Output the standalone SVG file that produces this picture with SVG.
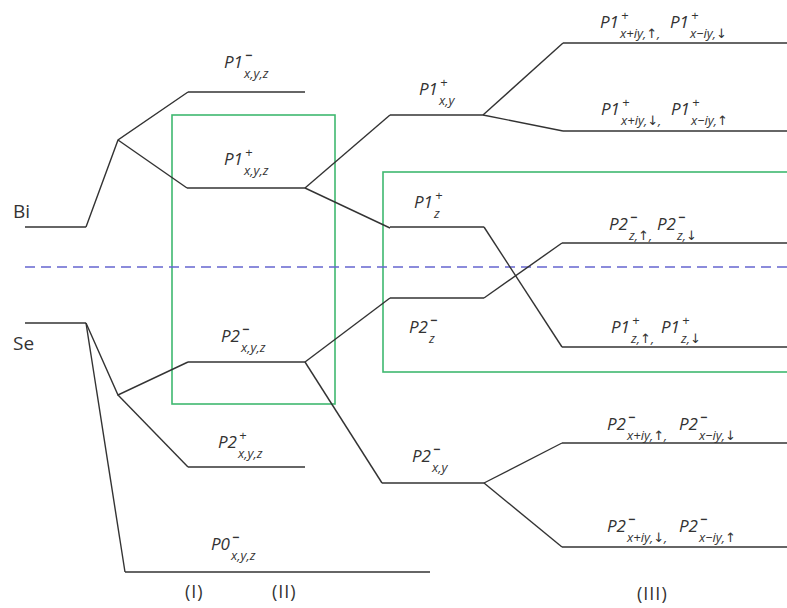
<svg xmlns="http://www.w3.org/2000/svg" width="787" height="608" viewBox="0 0 787 608">
<style>
.lv{stroke:#333;stroke-width:1.5;fill:none}
.cn{stroke:#333;stroke-width:1.4;fill:none}
.box{stroke:#3fb870;stroke-width:1.6;fill:none}
.m{font-family:"Open Sans","DejaVu Sans",sans-serif;font-style:italic;font-size:17px;fill:#333}
.s{font-family:"Open Sans","DejaVu Sans",sans-serif;font-style:italic;font-size:13px;fill:#333}
.mi{font-weight:bold}
.el{font-family:"Open Sans","DejaVu Sans",sans-serif;font-size:19px;fill:#333}
.rn{font-family:"Open Sans","DejaVu Sans",sans-serif;font-size:18px;fill:#333;letter-spacing:1px}
</style>
<rect width="787" height="608" fill="#fff"/>
<g id="boxes">
<rect class="box" x="172" y="115" width="163" height="289"/>
<rect class="box" x="383" y="172" width="410" height="200"/>
</g>
<line x1="25" y1="267" x2="787" y2="267" stroke="#6565d0" stroke-width="1.3" stroke-dasharray="10 6"/>
<g id="connectors" class="cn">
<polyline points="86,227 118,140 188,92"/>
<line x1="118" y1="140" x2="187" y2="188"/>
<polyline points="86,323 118,395 188,362"/>
<line x1="118" y1="395" x2="188" y2="467"/>
<line x1="86" y1="323" x2="125" y2="572"/>
<line x1="305" y1="188" x2="390" y2="115"/>
<line x1="305" y1="188" x2="390" y2="228"/>
<line x1="305" y1="362" x2="390" y2="298"/>
<line x1="305" y1="362" x2="382" y2="483"/>
<line x1="483" y1="115" x2="563" y2="43"/>
<line x1="483" y1="115" x2="563" y2="131"/>
<line x1="484" y1="227" x2="562" y2="347"/>
<line x1="484" y1="298" x2="562" y2="243"/>
<line x1="484" y1="483" x2="562" y2="443"/>
<line x1="484" y1="483" x2="562" y2="547"/>
</g>
<g id="Bi"><line class="lv" x1="25" y1="227" x2="86" y2="227"/><text class="el" x="13" y="218">Bi</text></g>
<g id="Se"><line class="lv" x1="25" y1="323" x2="86" y2="323"/><text class="el" x="13" y="350">Se</text></g>
<g id="P1m_xyz"><line class="lv" x1="188" y1="92" x2="305" y2="92"/>
<text class="m" x="224" y="68">P1<tspan class="s mi" x="245" y="60">−</tspan><tspan class="s" x="244" y="78">x,y,z</tspan></text></g>
<g id="P1p_xyz"><line class="lv" x1="187" y1="188" x2="305" y2="188"/>
<text class="m" x="224" y="165">P1<tspan class="s" x="245" y="157">+</tspan><tspan class="s" x="244" y="175">x,y,z</tspan></text></g>
<g id="P2m_xyz"><line class="lv" x1="188" y1="362" x2="305" y2="362"/>
<text class="m" x="221" y="342">P2<tspan class="s mi" x="242" y="334">−</tspan><tspan class="s" x="241" y="352">x,y,z</tspan></text></g>
<g id="P2p_xyz"><line class="lv" x1="188" y1="467" x2="305" y2="467"/>
<text class="m" x="218" y="448">P2<tspan class="s" x="239" y="440">+</tspan><tspan class="s" x="238" y="458">x,y,z</tspan></text></g>
<g id="P0m_xyz"><line class="lv" x1="125" y1="572" x2="430" y2="572"/>
<text class="m" x="211" y="550">P0<tspan class="s mi" x="232" y="542">−</tspan><tspan class="s" x="231" y="560">x,y,z</tspan></text></g>
<g id="P1p_xy"><line class="lv" x1="390" y1="115" x2="483" y2="115"/>
<text class="m" x="419" y="95">P1<tspan class="s" x="440" y="87">+</tspan><tspan class="s" x="439" y="105">x,y</tspan></text></g>
<g id="P1p_pm_a"><line class="lv" x1="563" y1="43" x2="787" y2="43"/>
<text class="m" x="600" y="28">P1<tspan class="s" x="621" y="20">+</tspan><tspan class="s" x="620" y="38">x+iy,↑,</tspan><tspan x="670" y="28">P1</tspan><tspan class="s" x="691" y="20">+</tspan><tspan class="s" x="690" y="38">x−iy,↓</tspan></text></g>
<g id="P1p_pm_b"><line class="lv" x1="563" y1="131" x2="787" y2="131"/>
<text class="m" x="601" y="115">P1<tspan class="s" x="622" y="107">+</tspan><tspan class="s" x="621" y="125">x+iy,↓,</tspan><tspan x="671" y="115">P1</tspan><tspan class="s" x="692" y="107">+</tspan><tspan class="s" x="691" y="125">x−iy,↑</tspan></text></g>
<g id="P1p_z"><line class="lv" x1="390" y1="227" x2="484" y2="227"/>
<text class="m" x="414" y="208">P1<tspan class="s" x="435" y="200">+</tspan><tspan class="s" x="434" y="218">z</tspan></text></g>
<g id="P2m_z"><line class="lv" x1="390" y1="298" x2="484" y2="298"/>
<text class="m" x="409" y="333">P2<tspan class="s mi" x="430" y="325">−</tspan><tspan class="s" x="429" y="343">z</tspan></text></g>
<g id="P2m_z_ud"><line class="lv" x1="562" y1="243" x2="787" y2="243"/>
<text class="m" x="609" y="230">P2<tspan class="s mi" x="630" y="222">−</tspan><tspan class="s" x="629" y="240">z,↑,</tspan><tspan x="657" y="230">P2</tspan><tspan class="s mi" x="678" y="222">−</tspan><tspan class="s" x="677" y="240">z,↓</tspan></text></g>
<g id="P1p_z_ud"><line class="lv" x1="562" y1="347" x2="787" y2="347"/>
<text class="m" x="611" y="333">P1<tspan class="s" x="632" y="325">+</tspan><tspan class="s" x="631" y="343">z,↑,</tspan><tspan x="661" y="333">P1</tspan><tspan class="s" x="682" y="325">+</tspan><tspan class="s" x="681" y="343">z,↓</tspan></text></g>
<g id="P2m_xy"><line class="lv" x1="382" y1="483" x2="484" y2="483"/>
<text class="m" x="412" y="462">P2<tspan class="s mi" x="433" y="454">−</tspan><tspan class="s" x="432" y="472">x,y</tspan></text></g>
<g id="P2m_pm_a"><line class="lv" x1="562" y1="443" x2="787" y2="443"/>
<text class="m" x="607" y="430">P2<tspan class="s mi" x="628" y="422">−</tspan><tspan class="s" x="627" y="440">x+iy,↑,</tspan><tspan x="679" y="430">P2</tspan><tspan class="s mi" x="700" y="422">−</tspan><tspan class="s" x="699" y="440">x−iy,↓</tspan></text></g>
<g id="P2m_pm_b"><line class="lv" x1="562" y1="547" x2="787" y2="547"/>
<text class="m" x="607" y="532">P2<tspan class="s mi" x="628" y="524">−</tspan><tspan class="s" x="627" y="542">x+iy,↓,</tspan><tspan x="679" y="532">P2</tspan><tspan class="s mi" x="700" y="524">−</tspan><tspan class="s" x="699" y="542">x−iy,↑</tspan></text></g>
<g id="labels">
<text class="rn" x="185" y="598">(I)</text>
<text class="rn" x="272" y="598">(II)</text>
<text class="rn" x="637" y="600">(III)</text>
</g>
</svg>
